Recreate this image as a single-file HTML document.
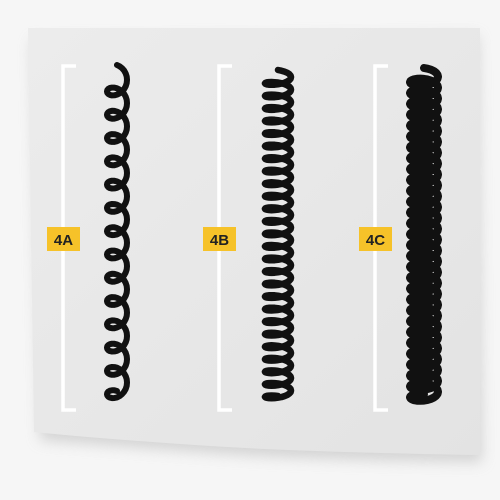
<!DOCTYPE html>
<html><head><meta charset="utf-8"><style>
html,body{margin:0;padding:0;background:#f6f6f6;width:500px;height:500px;overflow:hidden}
svg{display:block}
text{font-family:"Liberation Sans",sans-serif;font-weight:bold}
</style></head><body>
<svg id="s" width="500" height="500" viewBox="0 0 500 500">
<defs>
<filter id="sh" x="-10%" y="-10%" width="120%" height="130%"><feGaussianBlur stdDeviation="7"/></filter>
<linearGradient id="pg" x1="0" y1="0" x2="1" y2="1"><stop offset="0" stop-color="#ececec"/><stop offset="1" stop-color="#e3e3e3"/></linearGradient>
</defs>
<path d="M32,40 L478,36 L482,462 Q300,460 200,452 Q90,444 40,440 Z" fill="#c4c4c4" filter="url(#sh)" opacity="0.7"/>
<path d="M28,28 L480,28 L480,455 Q300,452 210,446 Q90,438 34,432 Z" fill="url(#pg)"/>
<g id="g"></g>
</svg>
<script>
const labels=["4A","4B","4C"];
const bracketX=[63,219,375];
const strandX=[117,278,424];
const curlCounts=[14,26,30];
const amplitudes=[10,13,14];
const strokeWidths=[6,6.5,8];
const topY=66, botY=410;
const NS="http://www.w3.org/2000/svg";
const g=document.getElementById('g');
function mk(t,a){const e=document.createElementNS(NS,t);for(const k in a)e.setAttribute(k,a[k]);g.appendChild(e);return e;}
labels.forEach((lab,i)=>{
  const bx=bracketX[i];
  const br=mk('path',{d:`M${bx+13},${topY} H${bx} V${botY} H${bx+13}`,fill:'none',stroke:'#fff','stroke-width':3.5});
  
  
  const bg=mk('rect',{x:bx-16,y:227,width:33,height:24,fill:'#f6c229'});
  
  
  const t=mk('text',{x:bx+0.5,y:245,'text-anchor':'middle','font-size':15,fill:'#222'});
  t.textContent=lab;
  
  
  const n=curlCounts[i], A=amplitudes[i], cx=strandX[i];
  const y0=topY+8, y1=botY-10;
  let d='';
  const steps=n*24;
  for(let k=0;k<=steps;k++){
    const tt=k/steps*n*2*Math.PI;
    let x,y;
    if(i===0){x=cx+A*Math.sin(tt);y=y0+(y1-y0)*k/steps-A*0.9*Math.cos(tt);}
    else{x=cx+A*Math.sin(tt);y=y0+(y1-y0)*k/steps-(i===2?6:4)*Math.cos(tt);}
    d+=(k?'L':'M')+x.toFixed(1)+','+y.toFixed(1);
  }
  const p=mk('path',{d:d,fill:'none',stroke:'#111','stroke-width':strokeWidths[i],'stroke-linecap':'round','stroke-linejoin':'round'});
  
  
});
</script>
</body></html>
